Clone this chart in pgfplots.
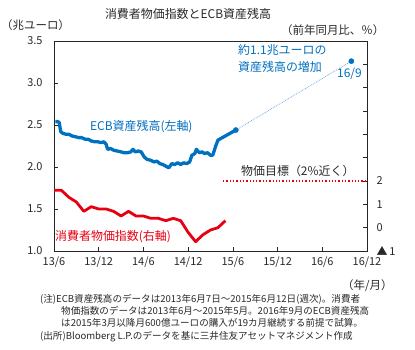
\documentclass[border=0pt]{standalone}
\usepackage{pgfplots}
\pgfplotsset{compat=1.18}
\usepackage{fontspec}
\setmainfont{Noto Sans CJK JP}
\definecolor{ecbblue}{RGB}{0,112,192}
\definecolor{cpired}{RGB}{230,0,18}
\definecolor{projblue}{RGB}{120,170,225}
\definecolor{txt}{RGB}{40,40,40}
\begin{document}
\begin{tikzpicture}
\path[use as bounding box] (0,0) rectangle (415bp,-350bp);
% left axis: ECB
\begin{axis}[
  scale only axis, width=313bp, height=210bp,
  at={(54bp,-251bp)}, anchor=south west,
  xmin=0, xmax=42, ymin=1, ymax=3.5,
  axis line style={black!85, line width=0.6bp},
  tick align=inside, major tick length=4bp,
  tick style={black!85, line width=0.6bp},
  xtick={0,6,...,42},
  xticklabels={13/6,13/12,14/6,14/12,15/6,15/12,16/6,16/12},
  xtick pos=left, ytick pos=left,
  ytick={1,1.5,...,3.5},
  /pgf/number format/assume math mode=true,
  yticklabel style={/pgf/number format/fixed, /pgf/number format/fixed zerofill, /pgf/number format/precision=1},
  ticklabel style={font=\fontsize{11}{11}\selectfont, text=txt},
  yticklabel style={xshift=-8bp},
  xticklabel style={yshift=-2bp},
  clip=false,
]
\addplot[ecbblue, line width=3.3bp, line join=round] coordinates {
(0.2,2.54) (0.5,2.54) (0.7,2.53) (0.9,2.42) (1.2,2.40) (1.6,2.39) (2.0,2.39) (2.4,2.37) (2.9,2.36) (3.3,2.35) (3.7,2.35) (4.2,2.33) (4.6,2.33) (5.0,2.31) (5.5,2.30) (5.9,2.30) (6.3,2.29) (6.7,2.30) (7.0,2.27) (7.2,2.21) (7.6,2.22) (8.0,2.20) (8.5,2.19) (9.0,2.18) (9.4,2.17) (9.9,2.17) (10.3,2.18) (10.6,2.21) (10.9,2.18) (11.3,2.19) (11.7,2.18) (12.1,2.12) (12.5,2.09) (13.0,2.08) (13.4,2.06) (13.8,2.07) (14.2,2.04) (14.6,2.03) (15.0,2.01) (15.4,1.99) (15.8,2.04) (16.2,2.03) (16.6,2.05) (17.0,2.03) (17.4,2.05) (17.8,2.04) (18.2,2.06) (18.5,2.14) (18.9,2.16) (19.1,2.21) (19.5,2.17) (19.9,2.18) (20.2,2.16) (20.6,2.17) (21.0,2.14) (21.3,2.14) (21.7,2.25) (22.0,2.32) (22.4,2.34) (22.8,2.36) (23.2,2.38) (23.6,2.40) (24.0,2.42) (24.4,2.44)
};
\addplot[projblue, line width=0.8bp, densely dotted] coordinates {(24.4,2.44) (39.9,3.26)};
\addplot[only marks, mark=*, mark size=2.6bp, ecbblue] coordinates {(24.4,2.44) (39.9,3.26)};
\end{axis}
% right axis: CPI
\begin{axis}[
  scale only axis, width=313bp, height=210bp,
  at={(54bp,-251bp)}, anchor=south west,
  xmin=0, xmax=42, ymin=-1, ymax=8,
  axis line style={black!85, line width=0.6bp},
  tick align=inside, major tick length=4bp,
  tick style={black!85, line width=0.6bp},
  xtick=\empty,
  ytick pos=right,
  ytick={-1,0,...,8},
  yticklabels={▲\,1,0,1,2,,,,,,},
  ticklabel style={font=\fontsize{11}{11}\selectfont, text=txt},
  yticklabel style={xshift=6bp},
  clip=false,
]
\addplot[cpired, line width=1.3bp, dotted] coordinates {(22.7,2) (42,2)};
\addplot[cpired, line width=2.8bp, line join=round] coordinates {
(0,1.6) (1,1.6) (2,1.3) (3,1.1) (4,0.7) (5,0.9) (6,0.8) (7,0.8) (8,0.7) (9,0.5) (10,0.7) (11,0.5) (12,0.5) (13,0.4) (14,0.4) (15,0.3) (16,0.4) (17,0.3) (18,-0.2) (19,-0.6) (20,-0.3) (21,-0.1) (22,0.0) (23,0.3)
};
\end{axis}
% texts
\node[text=txt, font=\fontsize{12}{12}\selectfont] at (188bp,-14bp) {消費者物価指数とECB資産残高};
\node[text=txt, font=\fontsize{11.5}{11.5}\selectfont, anchor=west, inner sep=0] at (1bp,-25bp) {（兆ユーロ）};
\node[text=txt, font=\fontsize{11.5}{11.5}\selectfont, anchor=west, inner sep=0] at (281bp,-30bp) {（前年同月比、％）};
\node[text=ecbblue, font=\fontsize{12}{12}\selectfont, anchor=west, inner sep=0] at (238bp,-50bp) {約1.1兆ユーロの};
\node[text=ecbblue, font=\fontsize{12}{12}\selectfont, anchor=west, inner sep=0] at (238bp,-67bp) {資産残高の増加};
\node[text=ecbblue, font=\fontsize{12}{12}\selectfont, anchor=west, inner sep=0] at (337bp,-74bp) {16/9};
\node[text=ecbblue, font=\fontsize{12}{12}\selectfont, anchor=west, inner sep=0] at (90bp,-127bp) {ECB資産残高(左軸)};
\node[text=cpired, font=\fontsize{12}{12}\selectfont, anchor=west, inner sep=0] at (55bp,-237bp) {消費者物価指数(右軸)};
\node[text=txt, font=\fontsize{12}{12}\selectfont, anchor=west, inner sep=0] at (241bp,-171bp) {物価目標（2\%近く）};
\node[text=txt, font=\fontsize{11.5}{11.5}\selectfont, anchor=west, inner sep=0] at (342bp,-286bp) {（年/月）};
\node[text=txt, font=\fontsize{9.6}{9.6}\selectfont, anchor=west, inner sep=0] at (40bp,-299bp) {(注)ECB資産残高のデータは2013年6月7日～2015年6月12日(週次)。消費者};
\node[text=txt, font=\fontsize{9.6}{9.6}\selectfont, anchor=west, inner sep=0] at (61bp,-311bp) {物価指数のデータは2013年6月～2015年5月。2016年9月のECB資産残高};
\node[text=txt, font=\fontsize{9.6}{9.6}\selectfont, anchor=west, inner sep=0] at (61bp,-323bp) {は2015年3月以降月600億ユーロの購入が19カ月継続する前提で試算。};
\node[text=txt, font=\fontsize{9.6}{9.6}\selectfont, anchor=west, inner sep=0] at (40bp,-337bp) {(出所)Bloomberg L.P.のデータを基に三井住友アセットマネジメント作成};
\end{tikzpicture}
\end{document}
